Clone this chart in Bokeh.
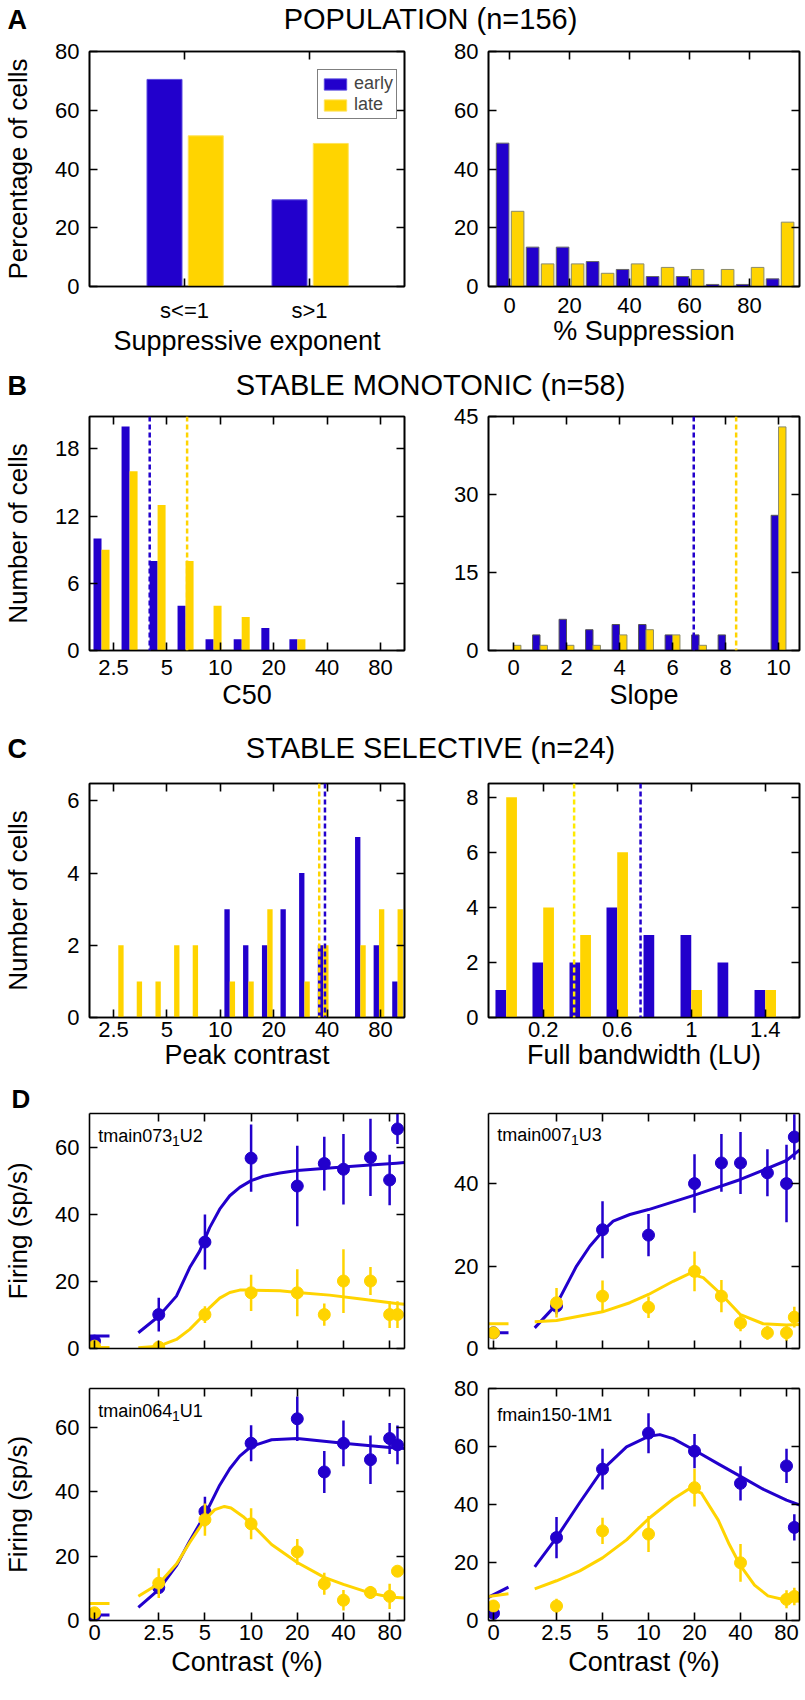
from bokeh.plotting import figure
from bokeh.layouts import column, row
from bokeh.models import (Range1d, LinearAxis, LogAxis, FixedTicker, Span, Label,
                          Legend, LegendItem, LinearScale)
from bokeh.embed import file_html
from bokeh.resources import INLINE

# ---------------- data ----------------
sup_categories = ["s<=1", "s>1"]
sup_early = [70.5, 29.5]
sup_late = [51.3, 48.7]

supp_bins = [0, 10, 20, 30, 40, 50, 60, 70, 80, 90]
supp_early = [48.8, 13.4, 13.4, 8.5, 5.8, 3.4, 3.4, 0.7, 0.7, 2.6]
supp_late = [25.6, 7.7, 7.7, 4.5, 7.7, 6.5, 5.8, 5.8, 6.5, 21.9]

c50_bins = [2.14, 3.08, 4.43, 6.37, 9.16, 13.2, 18.9, 27.2]
c50_early = [10, 20, 8, 4, 1, 1, 2, 1]
c50_late = [9, 16, 13, 8, 4, 3, 0, 1]
c50_median_early = 4.0
c50_median_late = 6.5

slope_bins = [0, 1, 2, 3, 4, 5, 6, 7, 8, 9, 10]
slope_early = [0, 3, 6, 4, 5, 5, 3, 3, 3, 0, 26]
slope_late = [1, 1, 1, 1, 3, 4, 3, 1, 0, 0, 43]
slope_median_early = 6.8
slope_median_late = 8.4

peak_bins = [2.66, 3.38, 4.31, 5.49, 6.99, 8.9, 11.3, 14.4, 18.4, 23.4, 29.8, 38.0, 48.3, 61.6, 78.4, 99.8]
peak_early = [0, 0, 0, 0, 0, 0, 3, 2, 2, 3, 4, 2, 0, 5, 2, 1]
peak_late = [2, 1, 1, 2, 2, 0, 1, 1, 3, 0, 1, 2, 0, 2, 3, 3]
peak_median_early = 38.9
peak_median_late = 36.1

bw_bins = [0.0, 0.2, 0.4, 0.6, 0.8, 1.0, 1.2, 1.4]
bw_early = [1, 2, 2, 4, 3, 3, 2, 1]
bw_late = [8, 4, 3, 6, 0, 1, 0, 1]
bw_median_early = 0.726
bw_median_late = 0.367

# example cells (panel D)
c1_name = ["tmain073", "1", "U2"]
c1_contrast = [2.5, 5, 10, 20, 30, 40, 60, 80, 90]
c1_early = [10.1, 31.7, 56.7, 48.4, 55.1, 53.4, 56.9, 50.2, 65.4]
c1_early_err = [5.0, 8.2, 10.0, 12.0, 8.0, 10.5, 11.5, 7.5, 4.5]
c1_late = [0.4, 10.1, 16.6, 16.6, 10.1, 20.1, 20.1, 10.1, 10.1]
c1_late_err = [0.5, 2.5, 5.4, 7.0, 3.3, 9.5, 4.2, 4.0, 4.0]
c1_zero_early, c1_zero_early_err = 2.2, 1.5
c1_zero_late, c1_zero_late_err = 0.7, 0.5
c1_zero_fit_early = [3.7, 3.7]
c1_zero_fit_late = [0.3, 0.3]
c1_fit_early_c = [1.84, 2.5, 3.26, 3.98, 4.62, 5.37, 6.24, 7.26, 8.43, 10, 12, 15.4, 20, 32.5, 53.7, 88.5, 100]
c1_fit_early = [4.7, 9.6, 15.6, 24.1, 29.0, 36.0, 41.5, 45.5, 48.0, 50.0, 51.3, 52.3, 53.0, 53.8, 54.5, 55.2, 55.4]
c1_fit_late_c = [1.84, 2.5, 3.26, 3.98, 4.62, 5.37, 6.24, 7.26, 8.43, 10, 15.4, 20, 32.5, 53.7, 88.5, 100]
c1_fit_late = [0.2, 0.7, 2.7, 5.7, 8.7, 12.2, 15.0, 16.7, 17.4, 17.4, 17.2, 16.7, 15.9, 14.7, 13.4, 13.2]

c2_name = ["tmain007", "1", "U3"]
c2_contrast = [2.5, 5, 10, 20, 30, 40, 60, 80, 90]
c2_early = [10.3, 28.8, 27.5, 40.0, 45.0, 45.0, 42.6, 40.0, 51.3]
c2_early_err = [2.0, 6.9, 5.1, 7.1, 7.0, 7.5, 5.7, 9.4, 5.5]
c2_late = [11.1, 12.7, 10.0, 18.7, 12.7, 6.2, 3.8, 3.8, 7.6]
c2_late_err = [3.6, 3.8, 2.6, 4.8, 3.9, 2.0, 1.7, 2.0, 2.5]
c2_zero_early, c2_zero_early_err = 3.8, 1.0
c2_zero_late, c2_zero_late_err = 3.8, 1.0
c2_zero_fit_early = [3.8, 3.8]
c2_zero_fit_late = [6.0, 6.0]
c2_fit_early_c = [1.80, 2.5, 3.38, 4.13, 5, 5.87, 7.55, 10, 20, 40, 80, 100]
c2_fit_early = [5.0, 10.7, 20.0, 24.8, 28.4, 30.9, 32.5, 33.7, 37.2, 41.0, 45.6, 48.5]
c2_fit_late_c = [1.80, 2.5, 5, 7.55, 10, 14.5, 18.65, 22.8, 30, 40, 56.3, 80, 100]
c2_fit_late = [6.5, 6.8, 8.9, 11.1, 13.1, 16.3, 18.2, 17.2, 13.1, 8.2, 6.0, 5.7, 5.8]

c3_name = ["tmain064", "1", "U1"]
c3_contrast = [2.5, 5, 10, 20, 30, 40, 60, 80, 90]
c3_early = [10.2, 33.8, 55.0, 62.6, 46.1, 55.0, 49.9, 56.5, 54.5]
c3_early_err = [2.0, 4.6, 5.6, 6.9, 6.5, 7.1, 7.5, 4.8, 6.0]
c3_late = [11.6, 31.3, 30.0, 21.3, 11.4, 6.3, 8.7, 7.5, 15.3]
c3_late_err = [4.6, 5.0, 4.8, 4.0, 3.4, 3.2, 2.0, 3.9, 1.5]
c3_zero_early, c3_zero_early_err = 1.5, 1.0
c3_zero_late, c3_zero_late_err = 2.4, 1.0
c3_zero_fit_early = [1.7, 1.7]
c3_zero_fit_late = [5.3, 5.3]
c3_fit_early_c = [1.84, 2.5, 3.26, 3.98, 5, 6.24, 7.26, 8.43, 10, 13.6, 20, 40, 80, 100]
c3_fit_early = [4.1, 9.6, 17.0, 24.7, 32.8, 42.0, 47.1, 51.0, 54.0, 56.1, 56.5, 55.0, 53.7, 53.4]
c3_fit_late_c = [1.84, 2.5, 3.26, 3.98, 5, 5.8, 6.7, 7.4, 8.85, 10, 13.6, 20, 30, 40, 60, 80, 100]
c3_fit_late = [7.5, 11.4, 17.5, 24.2, 31.3, 34.4, 35.4, 34.9, 32.3, 30.0, 23.6, 18.0, 13.4, 11.2, 8.5, 7.3, 7.0]

c4_name = ["fmain150-1M1"]
c4_contrast = [2.5, 5, 10, 20, 40, 80, 90]
c4_early = [28.6, 52.2, 64.6, 58.4, 47.3, 53.3, 32.1]
c4_early_err = [7.1, 7.0, 6.9, 5.9, 5.9, 5.9, 4.5]
c4_late = [5.0, 30.9, 29.8, 45.8, 19.9, 7.3, 8.3]
c4_late_err = [2.5, 4.5, 6.2, 6.5, 6.5, 3.1, 3.0]
c4_zero_early, c4_zero_early_err = 2.5, 1.5
c4_zero_late, c4_zero_late_err = 5.0, 2.0
c4_zero_fit_early = [8.0, 11.5]
c4_zero_fit_late = [8.3, 9.2]
c4_fit_early_c = [1.80, 2.5, 3.55, 5, 7.18, 10, 11.86, 14.5, 20, 28.6, 40, 56.6, 80, 100]
c4_fit_early = [18.5, 28.6, 40.7, 52.0, 59.9, 63.5, 64.1, 62.7, 58.7, 54.0, 49.7, 45.2, 41.5, 39.6]
c4_fit_late_c = [1.80, 2.5, 3.55, 5, 7.18, 10, 14.5, 18.6, 22.2, 28.6, 33.8, 40, 49.4, 60.5, 80, 100]
c4_fit_late = [10.9, 13.7, 17.1, 21.6, 27.8, 35.1, 41.9, 45.5, 43.9, 34.6, 26.2, 18.9, 12.2, 8.5, 7.0, 6.6]

# tick values / labels
pct_ticks = [0, 20, 40, 60, 80]
supp_ticks = [0, 20, 40, 60, 80]
contrast_ticks = [2.5, 5, 10, 20, 40, 80]
contrast_labels = ["2.5", "5", "10", "20", "40", "80"]
zero_label = "0"
slope_ticks = [0, 2, 4, 6, 8, 10]
bw_ticks = [0.2, 0.6, 1.0, 1.4]
bw_labels = ["0.2", "0.6", "1", "1.4"]
c50_yticks = [0, 6, 12, 18]
slope_yticks = [0, 15, 30, 45]
peak_yticks = [0, 2, 4, 6]
bw_yticks = [0, 2, 4, 6, 8]

# ---------------- styles ----------------
FONT = "Liberation Sans"
BLUE = "#2200cc"
YEL = "#ffd400"
YEL_BRIGHT = "#ffea00"
LW = 1.6
TICK_IN = 8
TICK_FS = "22px"
XLAB_FS = "27px"
YLAB_FS = "26px"
LEFT_BL, LEFT_FW, LEFT_BR = 85, 315, 42
RIGHT_BL, RIGHT_FW, RIGHT_BR = 42, 311, 2
LETTER_W = 63
ZERO_SPAN = (-0.5, 1.5)
ZERO_PX_PER_UNIT = 10.0


def label(**kw):
    kw.setdefault("text_font", FONT)
    kw.setdefault("text_color", "black")
    kw.setdefault("text_baseline", "alphabetic")
    kw.setdefault("text_align", "left")
    return Label(**kw)


def set_title(t, text, fs, bold=False, align="left", offset=0):
    t.text = text
    t.align = align
    t.offset = offset
    t.standoff = 0
    t.text_font = FONT
    t.text_font_size = fs
    t.text_font_style = "bold" if bold else "normal"
    t.text_color = "black"


def text_fig(w, h, text, fs, bold=False, align="left", offset=0):
    p = figure(width=w, height=h, min_border=0, toolbar_location=None, output_backend="svg",
               x_axis_location=None, y_axis_location=None, outline_line_color=None,
               x_range=Range1d(0, 1), y_range=Range1d(0, 1))
    p.grid.visible = False
    set_title(p.title, text, fs, bold=bold, align=align, offset=offset)
    return p


def header(h, letter, title):
    return row(text_fig(LETTER_W, h, letter, "27px", bold=True, align="left", offset=7),
               text_fig(797 - LETTER_W, h, title, "29px", align="center"))


def base_fig(side, bt, fh, bb, x_range, y_range, xlog=False, outline=True):
    l, fw, br = (LEFT_BL, LEFT_FW, LEFT_BR) if side == "L" else (RIGHT_BL, RIGHT_FW, RIGHT_BR)
    p = figure(frame_width=fw, frame_height=fh, min_border_left=l, min_border_right=br,
               min_border_top=bt, min_border_bottom=bb, x_range=x_range, y_range=y_range,
               x_axis_type="log" if xlog else "linear",
               toolbar_location=None, output_backend="svg")
    p.grid.visible = False
    p.outline_line_color = "black" if outline else None
    p.outline_line_width = LW
    return p


def style_axis(ax, ticks, show=True, standoff=10, overrides=None, label=None, label_standoff=0,
               label_fs=XLAB_FS):
    ax.ticker = FixedTicker(ticks=list(ticks), minor_ticks=[])
    ax.major_tick_in = TICK_IN
    ax.major_tick_out = 0
    ax.minor_tick_in = 0
    ax.minor_tick_out = 0
    ax.minor_tick_line_color = None
    ax.axis_line_width = LW
    ax.axis_line_color = "black"
    ax.major_tick_line_width = LW
    ax.major_tick_line_color = "black"
    ax.major_label_text_font = FONT
    ax.major_label_text_color = "black"
    if show:
        ax.major_label_text_font_size = TICK_FS
        ax.major_label_standoff = standoff
        if overrides:
            ax.major_label_overrides = overrides
    else:
        ax.major_label_text_font_size = "0px"
        ax.major_label_standoff = 0
        ax.major_label_overrides = {t: "" for t in ticks}
    if label:
        ax.axis_label = label
        ax.axis_label_text_font = FONT
        ax.axis_label_text_font_size = label_fs
        ax.axis_label_text_font_style = "normal"
        ax.axis_label_text_color = "black"
        ax.axis_label_standoff = label_standoff


def ystyle(ax, ticks, label=None, label_standoff=19):
    style_axis(ax, ticks, standoff=10, label=label, label_standoff=label_standoff, label_fs=YLAB_FS)


def mirror(p, xticks, yticks, xlog=False):
    top = LogAxis() if xlog else LinearAxis()
    style_axis(top, xticks, show=False)
    p.add_layout(top, "above")
    right = LinearAxis()
    style_axis(right, yticks, show=False)
    p.add_layout(right, "right")


def vline(p, loc, color, dash="5 3"):
    p.add_layout(Span(location=loc, dimension="height", line_color=color,
                      line_dash=dash, line_width=2.5))


def contrast_overrides():
    return dict(zip(contrast_ticks, contrast_labels))


# ---------------- A ----------------
pAL = base_fig("L", 11, 235, 80, Range1d(0.24, 2.76), Range1d(0, 80))
xa = list(range(1, len(sup_categories) + 1))
rb = pAL.quad(left=[x - 0.30 for x in xa], right=[x - 0.02 for x in xa], bottom=0, top=sup_early,
              fill_color=BLUE, line_color="#5a4ae0", line_width=1)
ry = pAL.quad(left=[x + 0.03 for x in xa], right=[x + 0.31 for x in xa], bottom=0, top=sup_late,
              fill_color=YEL, line_color="#ffe35a", line_width=1)
style_axis(pAL.xaxis[0], xa, standoff=11, overrides=dict(zip(xa, sup_categories)),
           label="Suppressive exponent", label_standoff=0)
ystyle(pAL.yaxis[0], pct_ticks, label="Percentage of cells")
mirror(pAL, xa, pct_ticks)
leg = Legend(items=[LegendItem(label="early", renderers=[rb]), LegendItem(label="late", renderers=[ry])],
             location=(228, 167), border_line_color="black", border_line_width=1,
             label_text_font=FONT, label_text_font_size="18px", glyph_width=28, glyph_height=14,
             label_height=18, spacing=0, padding=3, label_standoff=5, margin=0,
             background_fill_color="white", background_fill_alpha=1)
pAL.add_layout(leg)

pAR = base_fig("R", 11, 235, 80, Range1d(-7, 96.67), Range1d(0, 80))
pAR.quad(left=[b - 4.4 for b in supp_bins], right=[b - 0.2 for b in supp_bins], bottom=0, top=supp_early,
         fill_color=BLUE, line_color="#666666", line_width=1)
pAR.quad(left=[b + 0.6 for b in supp_bins], right=[b + 4.8 for b in supp_bins], bottom=0, top=supp_late,
         fill_color=YEL, line_color="#8a8a6a", line_width=1)
style_axis(pAR.xaxis[0], supp_ticks, standoff=11, label="% Suppression", label_standoff=0)
ystyle(pAR.yaxis[0], pct_ticks)
mirror(pAR, supp_ticks, pct_ticks)

# ---------------- B ----------------
pBL = base_fig("L", 12, 234, 79, Range1d(1.831, 109.2), Range1d(0, 20.9), xlog=True)
hwB = 2 ** 0.15
pBL.quad(left=[c / hwB for c in c50_bins], right=c50_bins, bottom=0, top=c50_early,
         fill_color=BLUE, line_color=None)
pBL.quad(left=c50_bins, right=[c * hwB for c in c50_bins], bottom=0, top=c50_late,
         fill_color=YEL, line_color=None)
vline(pBL, c50_median_early, BLUE)
vline(pBL, c50_median_late, YEL)
style_axis(pBL.xaxis[0], contrast_ticks, standoff=9, overrides=contrast_overrides(),
           label="C50", label_standoff=2)
ystyle(pBL.yaxis[0], c50_yticks, label="Number of cells")
mirror(pBL, contrast_ticks, c50_yticks, xlog=True)

pBR = base_fig("R", 12, 234, 79, Range1d(-0.943, 10.79), Range1d(0, 45))
pBR.quad(left=[b - 0.28 for b in slope_bins], right=slope_bins, bottom=0, top=slope_early,
         fill_color=BLUE, line_color="#555555", line_width=1)
pBR.quad(left=slope_bins, right=[b + 0.28 for b in slope_bins], bottom=0, top=slope_late,
         fill_color=YEL, line_color="#8a8a6a", line_width=1)
vline(pBR, slope_median_early, BLUE)
vline(pBR, slope_median_late, YEL)
style_axis(pBR.xaxis[0], slope_ticks, standoff=9, label="Slope", label_standoff=2)
ystyle(pBR.yaxis[0], slope_yticks)
mirror(pBR, slope_ticks, slope_yticks)

# ---------------- C ----------------
pCL = base_fig("L", 13, 234, 64, Range1d(1.831, 109.2), Range1d(0, 6.48), xlog=True)
hwC = 2 ** 0.1
pCL.quad(left=[c / hwC for c in peak_bins], right=peak_bins, bottom=0, top=peak_early,
         fill_color=BLUE, line_color=None)
pCL.quad(left=peak_bins, right=[c * hwC for c in peak_bins], bottom=0, top=peak_late,
         fill_color=YEL, line_color=None)
vline(pCL, peak_median_late, YEL)
vline(pCL, peak_median_early, BLUE)
style_axis(pCL.xaxis[0], contrast_ticks, standoff=4, overrides=contrast_overrides(),
           label="Peak contrast", label_standoff=0)
ystyle(pCL.yaxis[0], peak_yticks, label="Number of cells", label_standoff=31)
mirror(pCL, contrast_ticks, peak_yticks, xlog=True)

pCR = base_fig("R", 13, 234, 64, Range1d(-0.0957, 1.585), Range1d(0, 8.5))
pCR.quad(left=[b - 0.058 for b in bw_bins], right=bw_bins, bottom=0, top=bw_early,
         fill_color=BLUE, line_color=None)
pCR.quad(left=bw_bins, right=[b + 0.058 for b in bw_bins], bottom=0, top=bw_late,
         fill_color=YEL, line_color=None)
vline(pCR, bw_median_late, YEL_BRIGHT)
vline(pCR, bw_median_early, BLUE)
style_axis(pCR.xaxis[0], bw_ticks, standoff=4, overrides=dict(zip(bw_ticks, bw_labels)),
           label="Full bandwidth (LU)", label_standoff=0)
ystyle(pCR.yaxis[0], bw_yticks)
mirror(pCR, bw_ticks, bw_yticks)


# ---------------- D ----------------
def d_panel(side, bt, fh, bb, xr, y_max, yticks, cell, show_x, name_top, ylabel=None, letter=None):
    fw = LEFT_FW if side == "L" else RIGHT_FW
    p = base_fig(side, bt, fh, bb, xr, Range1d(0, y_max), xlog=True, outline=False)
    zr = Range1d(ZERO_SPAN[0], ZERO_SPAN[0] + fw / ZERO_PX_PER_UNIT)
    p.extra_x_ranges = {"zero": zr}
    p.extra_x_scales = {"zero": LinearScale()}

    # where the 0%-contrast sub-axis position falls on the log contrast axis
    frac = (0 - zr.start) / (zr.end - zr.start)
    zero_pos = xr.start * (xr.end / xr.start) ** frac
    ticks = [zero_pos] + contrast_ticks
    ovr = {zero_pos: zero_label}
    ovr.update(contrast_overrides())
    style_axis(p.xaxis[0], ticks, show=show_x, standoff=4, overrides=ovr,
               label="Contrast (%)" if show_x else None, label_standoff=4)
    ystyle(p.yaxis[0], yticks, label=ylabel)
    mirror(p, contrast_ticks, yticks, xlog=True)

    for key, color in (("early", BLUE), ("late", YEL)):
        c = cell["contrast"]
        v = cell[key]
        e = cell[key + "_err"]
        p.line(cell["fit_" + key + "_c"], cell["fit_" + key], line_color=color, line_width=3,
               line_join="round")
        p.line(list(ZERO_SPAN), cell["zero_fit_" + key], x_range_name="zero",
               line_color=color, line_width=3)
        p.segment(x0=c, x1=c, y0=[a - b for a, b in zip(v, e)], y1=[a + b for a, b in zip(v, e)],
                  line_color=color, line_width=2.5)
        p.scatter(c, v, size=12, fill_color=color, line_color=color)
        z = cell["zero_" + key]
        ze = cell["zero_" + key + "_err"]
        p.segment(x0=[0], x1=[0], y0=[z - ze], y1=[z + ze], x_range_name="zero",
                  line_color=color, line_width=2.5)
        p.scatter([0], [z], size=12, fill_color=color, line_color=color, x_range_name="zero")

    parts = cell["name"]
    base_y = fh - name_top
    if len(parts) == 3:
        specs = [(parts[0], 8.7, base_y, "18px"), (parts[1], 82.4, base_y - 5, "14px"),
                 (parts[2], 90.2, base_y, "18px")]
    else:
        specs = [(parts[0], 8.7, base_y, "18px")]
    for txt, x, y, fs in specs:
        p.add_layout(label(x=x, y=y, x_units="screen", y_units="screen", text=txt, text_font_size=fs))

    if letter:
        set_title(p.title, letter, "26px", bold=True, align="left", offset=-78)
    return p


def cell_dict(prefix):
    g = globals()
    keys = ["name", "contrast", "early", "early_err", "late", "late_err", "zero_early", "zero_early_err",
            "zero_late", "zero_late_err", "zero_fit_early", "zero_fit_late", "fit_early_c", "fit_early",
            "fit_late_c", "fit_late"]
    return {k: g[prefix + "_" + k] for k in keys}


pD1L = d_panel("L", 30, 235, 26, Range1d(0.884, 100), 70, [0, 20, 40, 60], cell_dict("c1"), False, 22.7,
               ylabel="Firing (sp/s)", letter="D")
pD1R = d_panel("R", 30, 235, 26, Range1d(0.897, 97.3), 57, [0, 20, 40], cell_dict("c2"), False, 21.0)
pD2L = d_panel("L", 14, 232, 64, Range1d(0.884, 100), 72, [0, 20, 40, 60], cell_dict("c3"), True, 22.7,
               ylabel="Firing (sp/s)")
pD2R = d_panel("R", 14, 232, 64, Range1d(0.897, 97.3), 80, [0, 20, 40, 60, 80], cell_dict("c4"), True, 26.5)

layout = column(
    header(40, "A", "POPULATION (n=156)"),
    row(pAL, pAR),
    header(38, "B", "STABLE MONOTONIC (n=58)"),
    row(pBL, pBR),
    header(41, "C", "STABLE SELECTIVE (n=24)"),
    row(pCL, pCR),
    row(pD1L, pD1R),
    row(pD2L, pD2R),
)

open("out.html", "w").write(file_html(layout, INLINE, title="figure"))
